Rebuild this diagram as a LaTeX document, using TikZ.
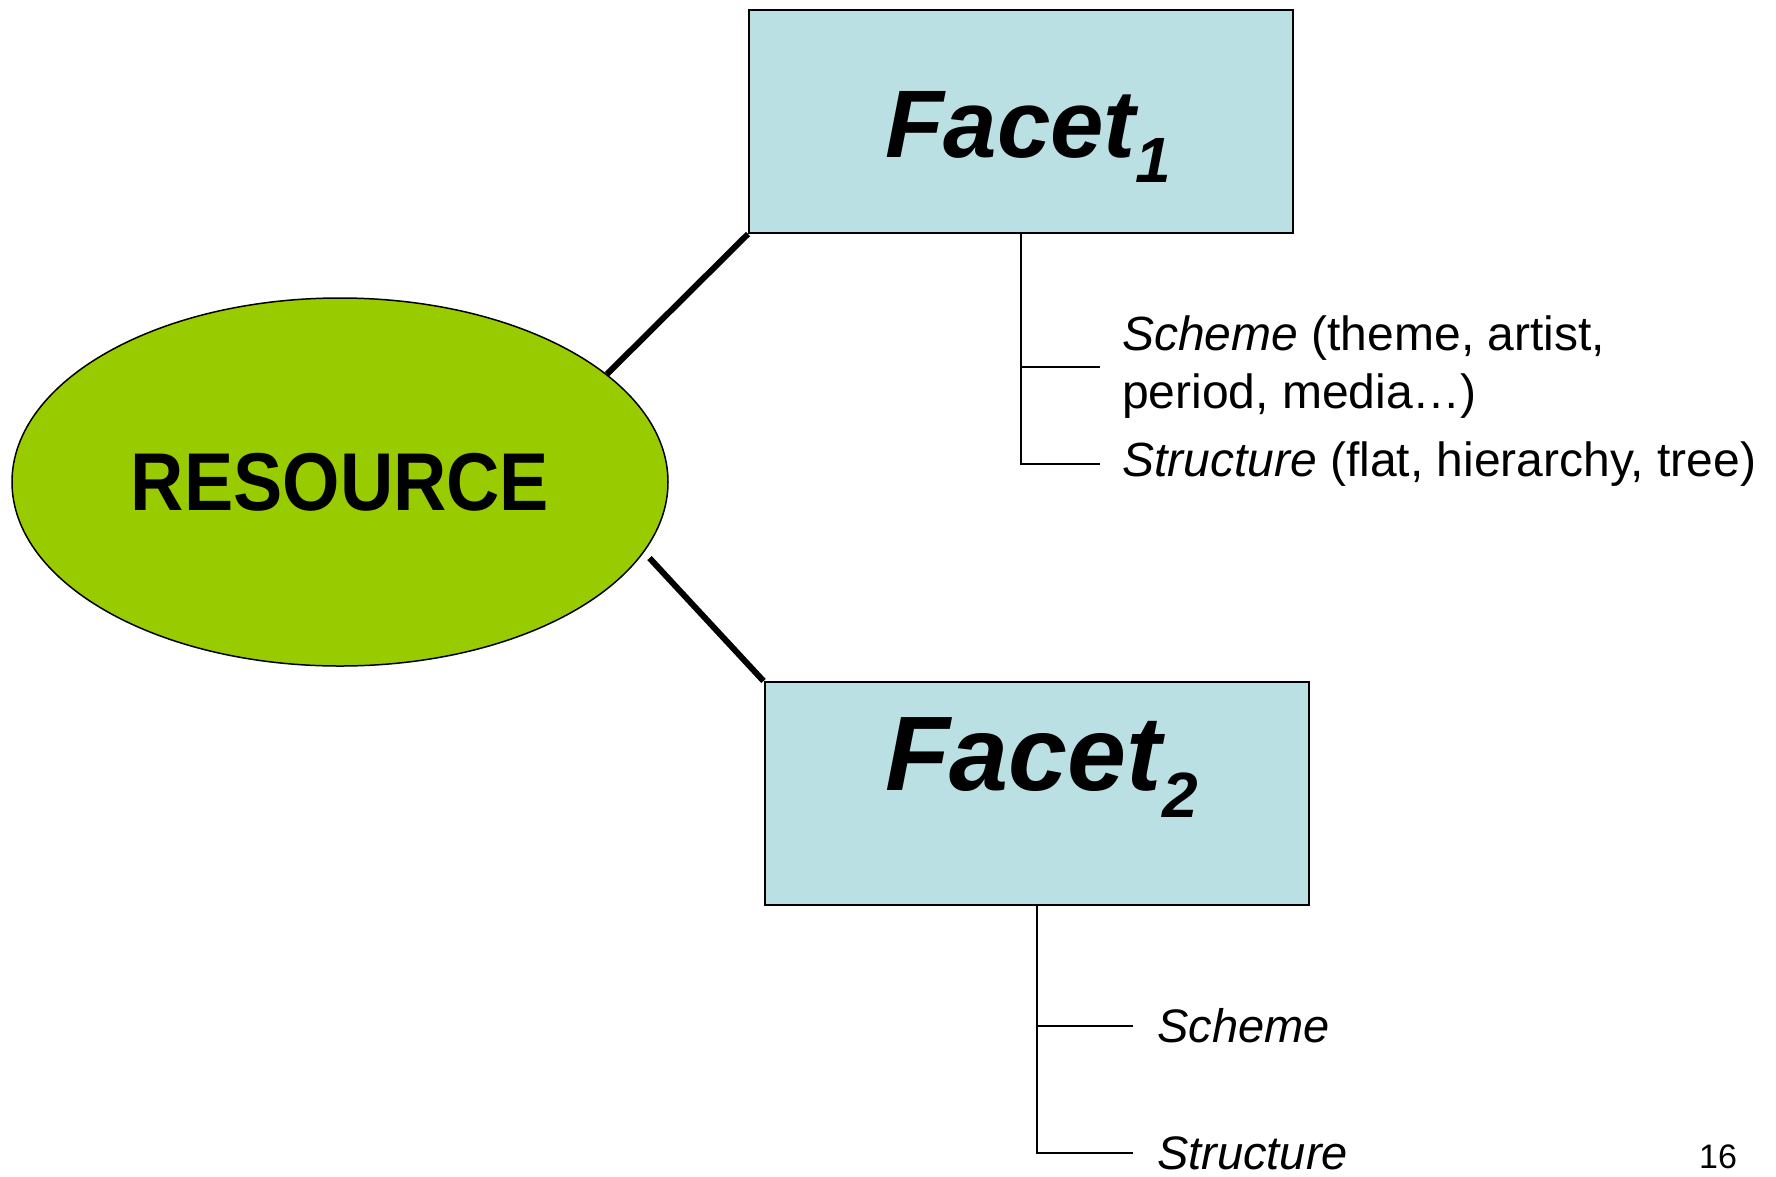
\documentclass[tikz,border=0pt]{standalone}
\usepackage{fontspec}
\setmainfont{Liberation Sans}
\newfontfamily\resfont[FakeStretch=0.9]{Liberation Sans}
\usepackage{tikz}
\usetikzlibrary{positioning}
\usetikzlibrary{shapes.geometric}
\definecolor{facetblue}{RGB}{186,224,227}
\definecolor{resgreen}{RGB}{153,204,0}

\begin{document}
\begin{tikzpicture}[x=1pt, y=-1pt,
    facet/.style={draw, line width=2pt, fill=facetblue, minimum width=544pt, minimum height=223pt, inner sep=0pt},
    facetname/.style={font=\bfseries\itshape, inner sep=0pt, anchor=base west},
    resource/.style={ellipse, draw, line width=1.5pt, fill=resgreen, minimum width=656pt, minimum height=368pt, inner sep=0pt, font=\resfont\bfseries\fontsize{82}{96}\selectfont},
    item/.style={anchor=west, align=left, inner ysep=0pt},
    branch/.style={line width=2pt},
    link/.style={line width=6pt}]

                \path[fill=white, use as bounding box] (0,0) rectangle (1776,1176);

                % Nodes
                \node at (340,482) (res) [resource] {RESOURCE};
                \node at (1021,121.5) (f1) [facet] {};
                \node at (1036.5,793.5) (f2) [facet] {};
                \node at (885,157) (f1name) [facetname] {\fontsize{96}{110}\selectfont Facet\raisebox{-25pt}{\fontsize{64}{70}\selectfont 1}};
                \node at (885,790) (f2name) [facetname] {\fontsize{106}{120}\selectfont Facet\raisebox{-27pt}{\fontsize{64}{70}\selectfont 2}};

                \node at (1100,367) (sch1) [item, inner xsep=22pt, font=\fontsize{48}{58}\selectfont] {\textit{Scheme} (theme, artist,\\period, media…)};
                \node at (1100,464) (str1) [item, inner xsep=22pt, font=\fontsize{48}{58}\selectfont] {\textit{Structure} (flat, hierarchy, tree)};
                \node at (1133,1026) (sch2) [item, inner xsep=24pt, font=\itshape\fontsize{47}{56}\selectfont] {Scheme};
                \node at (1133,1153) (str2) [item, inner xsep=24pt, font=\itshape\fontsize{47}{56}\selectfont] {Structure};
                \node at (1699,1168) (page) [anchor=base west, inner sep=0pt, font=\fontsize{34}{40}\selectfont] {16};

                % Lines
                \draw[link] (res.22) -- (f1.south west);
                \draw[link, shorten <=8pt] (res.-13) -- (f2.north west);
                \draw[branch] (f1.south) |- (sch1.west);
                \draw[branch] (f1.south) |- (str1.west);
                \draw[branch] (f2.south) |- (sch2.west);
                \draw[branch] (f2.south) |- (str2.west);

\end{tikzpicture}
\end{document}
